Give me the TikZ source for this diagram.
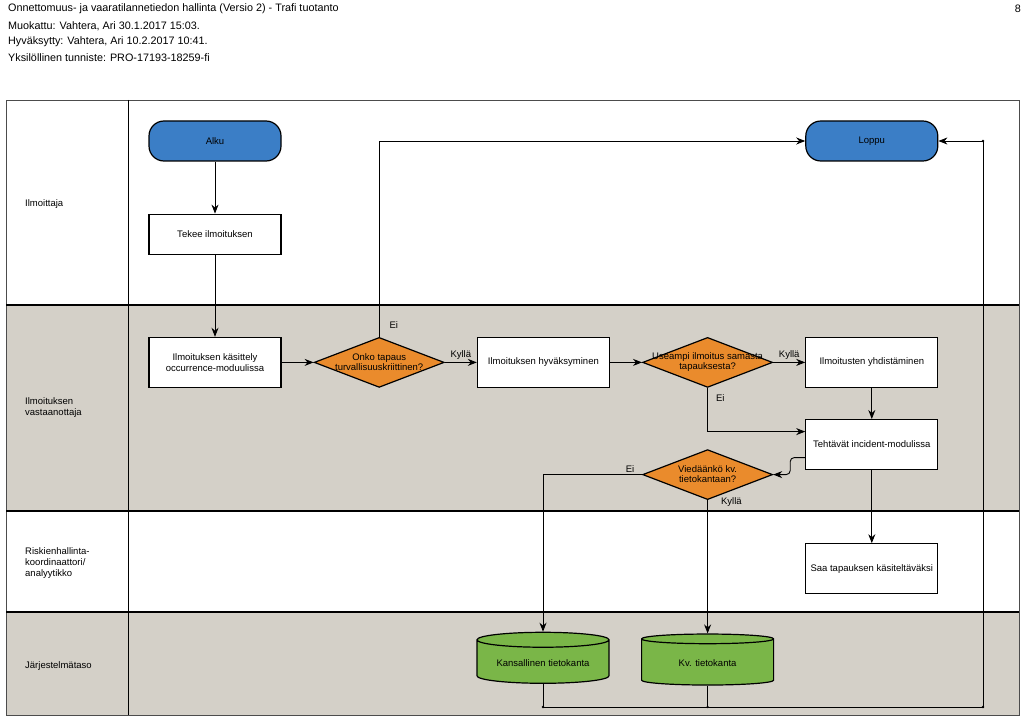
\documentclass[tikz,border=0pt]{standalone}
\usepackage{fontspec}
\setmainfont{Liberation Sans}
\usetikzlibrary{shapes,arrows,arrows.meta,positioning,calc}

\definecolor{laneGray}{HTML}{D4D0C8}
\definecolor{termBlue}{HTML}{3B7EC6}
\definecolor{decOrange}{HTML}{EA8B2C}
\definecolor{dbGreen}{HTML}{7AB648}

\begin{document}
\begin{tikzpicture}[
    x=1pt, y=-1pt,
    node distance=32pt,
    header/.style={anchor=west, inner sep=0pt, font=\fontsize{10.8}{12}\selectfont},
    terminal/.style={rectangle, draw=black, fill=termBlue, line width=1.2pt, minimum width=132pt, minimum height=40pt, rounded corners=15pt, font=\fontsize{9.5}{11}\selectfont},
    process/.style={rectangle, draw=black, fill=white, line width=1.2pt, minimum width=132pt, minimum height=50pt, align=center, font=\fontsize{9.5}{11}\selectfont},
    decision/.style={diamond, draw=black, fill=decOrange, line width=1.2pt, minimum width=130pt, minimum height=50pt, inner sep=0pt},
    dtext/.style={align=center, inner sep=0pt, font=\fontsize{9.5}{10}\selectfont},
    database/.style={cylinder, shape border rotate=90, aspect=0.15, draw=black, fill=dbGreen, line width=1.2pt, minimum width=132pt, minimum height=51pt, font=\fontsize{9.5}{11}\selectfont},
    lane/.style={anchor=west, align=left, inner sep=0pt, font=\fontsize{9.5}{11}\selectfont},
    lbl/.style={inner sep=2pt, font=\fontsize{9.5}{11}\selectfont},
    arrow/.style={-{Stealth[length=9pt,width=7pt]}, line width=0.9pt}
]
    \fill[white] (0,0) rectangle (1024,727);
    \useasboundingbox (0,0) rectangle (1024,727);

    % Header
    \node[header] (title) at (8,9) {Onnettomuus- ja vaaratilannetiedon hallinta (Versio 2) - Trafi tuotanto};
    \node[header] (muok) at (8,26) {Muokattu: Vahtera, Ari 30.1.2017 15:03.};
    \node[header] (hyv) at (8,42) {Hyväksytty: Vahtera, Ari 10.2.2017 10:41.};
    \node[header] (tunn) at (8,58) {Yksilöllinen tunniste: PRO-17193-18259-fi};
    \node[header, anchor=east] (page) at (1021,9) {8};

    % Lanes
    \fill[laneGray] (6,305) rectangle (1019,511);
    \fill[laneGray] (6,612) rectangle (1019,715);
    \draw[line width=0.8pt, black!70] (6,100) rectangle (1019,715);
    \draw[line width=1pt] (128,100) -- (128,715);
    \foreach \y in {305,511,612}
        \draw[line width=1.4pt] (6,\y) -- (1019,\y);

    \node[lane] (l1) at (25,204) {Ilmoittaja};
    \node[lane] (l2) at (25,408) {Ilmoituksen\\vastaanottaja};
    \node[lane] (l3) at (25,563) {Riskienhallinta-\\koordinaattori/\\analyytikko};
    \node[lane] (l4) at (25,666) {Järjestelmätaso};

    % Ilmoittaja
    \node[terminal] (alku) at (215,141) {Alku};
    \node[process, minimum height=40pt, below=52pt of alku] (tekee) {Tekee ilmoituksen};

    % Vastaanottaja
    \node[process, below=82pt of tekee] (kasittely) {Ilmoituksen käsittely\\occurrence-moduulissa};
    \node[decision, right=of kasittely] (d1) {};
    \node[dtext] at (d1) {Onko tapaus\\turvallisuuskriittinen?};
    \node[process, right=of d1] (hyvaks) {Ilmoituksen hyväksyminen};
    \node[decision, right=of hyvaks] (d2) {};
    \node[dtext] at (d2) {Useampi ilmoitus samasta\\tapauksesta?};
    \node[process, right=of d2] (yhdist) {Ilmoitusten yhdistäminen};
    \node[terminal] (loppu) at (yhdist |- alku) {Loppu};
    \node[process, below=31pt of yhdist] (teht) {Tehtävät incident-modulissa};
    \node[decision, below=61pt of d2] (d3) {};
    \node[dtext] at (d3) {Viedäänkö kv.\\tietokantaan?};

    % Riskienhallinta
    \node[process, below=73pt of teht] (saa) {Saa tapauksen käsiteltäväksi};

    % Järjestelmätaso
    \node[database] (kans) at (543,663) {Kansallinen tietokanta};
    \node[database] (kv) at (d3 |- kans) {Kv. tietokanta};
    \coordinate (corner) at (983,707);

    % Arrows
    \draw[arrow] (alku) -- (tekee);
    \draw[arrow] (tekee) -- (kasittely);
    \draw[arrow] (kasittely) -- (d1);
    \draw[arrow] (d1.north) |- node[lbl, pos=0.03, right, xshift=8pt] {Ei} (loppu.west);
    \draw[arrow] (d1) -- node[lbl, above] {Kyllä} (hyvaks);
    \draw[arrow] (hyvaks) -- (d2);
    \draw[arrow] (d2) -- node[lbl, above] {Kyllä} (yhdist);
    \draw[arrow] (d2.south) |- node[lbl, pos=0.12, right, xshift=6pt] {Ei} ([yshift=13pt]teht.west);
    \draw[arrow] (yhdist) -- (teht);
    \draw[arrow, rounded corners=4pt] ([yshift=-13pt]teht.west) -- ++(-15,0) |- (d3.east);
    \draw[arrow] (d3.west) -| node[lbl, pos=0.06, above] {Ei} (kans.north);
    \draw[arrow] (d3.south) -- node[lbl, pos=0, anchor=west, xshift=11pt, yshift=-2pt] {Kyllä} (kv.north);
    \draw[arrow] (teht) -- (saa);
    \draw[arrow] (kans.south) |- (corner) |- (loppu.east);
    \draw[line width=0.9pt] (kv.south) -- (kv.south |- corner);
    \fill (kans.south |- corner) circle (1.3pt);
    \fill (kv.south |- corner) circle (1.3pt);
    \fill (corner) circle (1.3pt);
    \fill (corner |- loppu.east) circle (1.3pt);
\end{tikzpicture}
\end{document}
